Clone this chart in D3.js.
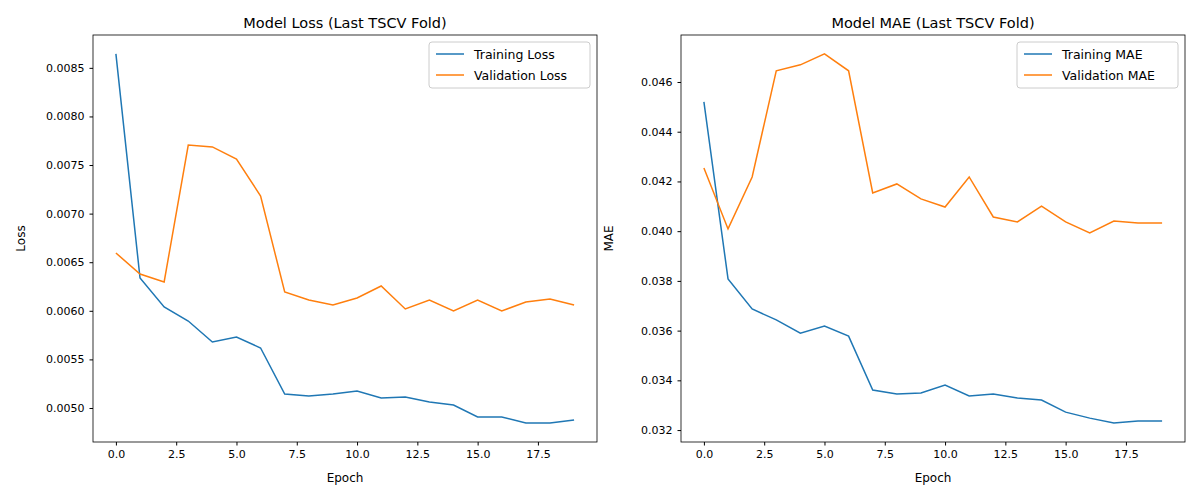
<!DOCTYPE html>
<html><head><meta charset="utf-8">
<script src="https://cdn.jsdelivr.net/npm/d3@7"></script>
<style>body{margin:0;background:#fff}text{font-family:"DejaVu Sans",sans-serif}</style>
</head><body><svg id="chart" width="1200" height="500"></svg>
<script>
// values
const epochs = d3.range(20);
const trainLoss = [0.008643,0.006338,0.006039,0.005895,0.005679,0.005731,0.005617,0.005144,0.005123,0.005144,0.005175,0.005103,0.005113,0.005062,0.005031,0.004907,0.004907,0.004846,0.004846,0.004877];
const valLoss = [0.006595,0.006379,0.006297,0.007706,0.007686,0.007562,0.007181,0.006194,0.006111,0.006060,0.006132,0.006255,0.006019,0.006111,0.005998,0.006111,0.005998,0.006091,0.006122,0.006060];
const trainMae = [0.04520,0.03808,0.03687,0.03643,0.03590,0.03618,0.03578,0.03361,0.03345,0.03349,0.03381,0.03337,0.03345,0.03329,0.03321,0.03272,0.03248,0.03228,0.03236,0.03236];
const valMae = [0.04254,0.04009,0.04218,0.04645,0.04669,0.04713,0.04645,0.04154,0.04190,0.04130,0.04097,0.04218,0.04057,0.04037,0.04101,0.04037,0.03993,0.04041,0.04033,0.04033];
const xTicks = [0, 2.5, 5, 7.5, 10, 12.5, 15, 17.5];
const lossTicks = [0.0050,0.0055,0.0060,0.0065,0.0070,0.0075,0.0080,0.0085];
const maeTicks = [0.032,0.034,0.036,0.038,0.040,0.042,0.044,0.046];

const svg = d3.select("#chart");

function panel(left, title, ylab, tr, va, names, yDom, yTicks, yFmt) {
  const top = 35, bottom = 442, right = left + 504;
  const x = d3.scaleLinear().domain([-0.95, 19.95]).range([left, right]);
  const y = d3.scaleLinear().domain(yDom).range([bottom, top]);
  const g = svg.append("g");

  g.append("g").attr("transform", `translate(0,${bottom})`)
    .call(d3.axisBottom(x).tickValues(xTicks).tickFormat(d3.format(".1f")).tickSizeOuter(0).tickSize(3.5).tickPadding(5))
    .call(a => a.select(".domain").remove())
    .selectAll("text").attr("font-size", 11).attr("fill", "#000").style("font-family", "DejaVu Sans");
  g.append("g").attr("transform", `translate(${left},0)`)
    .call(d3.axisLeft(y).tickValues(yTicks).tickFormat(yFmt).tickSizeOuter(0).tickSize(3.5).tickPadding(5))
    .call(a => a.select(".domain").remove())
    .selectAll("text").attr("font-size", 11).attr("fill", "#000").style("font-family", "DejaVu Sans");

  const line = d3.line().x((d, i) => x(epochs[i])).y(d => y(d));
  g.append("path").datum(tr).attr("d", line).attr("fill", "none").attr("stroke", "#1f77b4").attr("stroke-width", 1.5);
  g.append("path").datum(va).attr("d", line).attr("fill", "none").attr("stroke", "#ff7f0e").attr("stroke-width", 1.5);

  g.append("rect").attr("x", left).attr("y", top).attr("width", right - left).attr("height", bottom - top)
    .attr("fill", "none").attr("stroke", "#000").attr("stroke-width", 0.8);

  g.append("text").attr("x", (left + right) / 2).attr("y", 28).attr("text-anchor", "middle").attr("font-size", 14.5).text(title);
  g.append("text").attr("x", (left + right) / 2).attr("y", 482).attr("text-anchor", "middle").attr("font-size", 12).text("Epoch");
  g.append("text").attr("transform", `translate(${left - 68},${(top + bottom) / 2}) rotate(-90)`)
    .attr("text-anchor", "middle").attr("font-size", 12).text(ylab);

  // legend
  const lw = names[0].length > 14 ? 154 : 161, lx = right - 7 - lw, ly = 42;
  g.append("rect").attr("x", lx).attr("y", ly).attr("width", lw).attr("height", 46).attr("rx", 3)
    .attr("fill", "#fff").attr("fill-opacity", 0.8).attr("stroke", "#ccc");
  [["#1f77b4", names[0]], ["#ff7f0e", names[1]]].forEach(([c, n], i) => {
    const yy = ly + 12 + i * 21;
    g.append("line").attr("x1", lx + 7).attr("x2", lx + 35).attr("y1", yy).attr("y2", yy).attr("stroke", c).attr("stroke-width", 1.5);
    g.append("text").attr("x", lx + 45).attr("y", yy + 4.5).attr("font-size", 12.5).text(n);
  });
}

panel(93, "Model Loss (Last TSCV Fold)", "Loss", trainLoss, valLoss, ["Training Loss", "Validation Loss"],
  [0.00465, 0.008838], lossTicks, d3.format(".4f"));
panel(681, "Model MAE (Last TSCV Fold)", "MAE", trainMae, valMae, ["Training MAE", "Validation MAE"],
  [0.03152, 0.04789], maeTicks, d3.format(".3f"));
</script></body></html>
